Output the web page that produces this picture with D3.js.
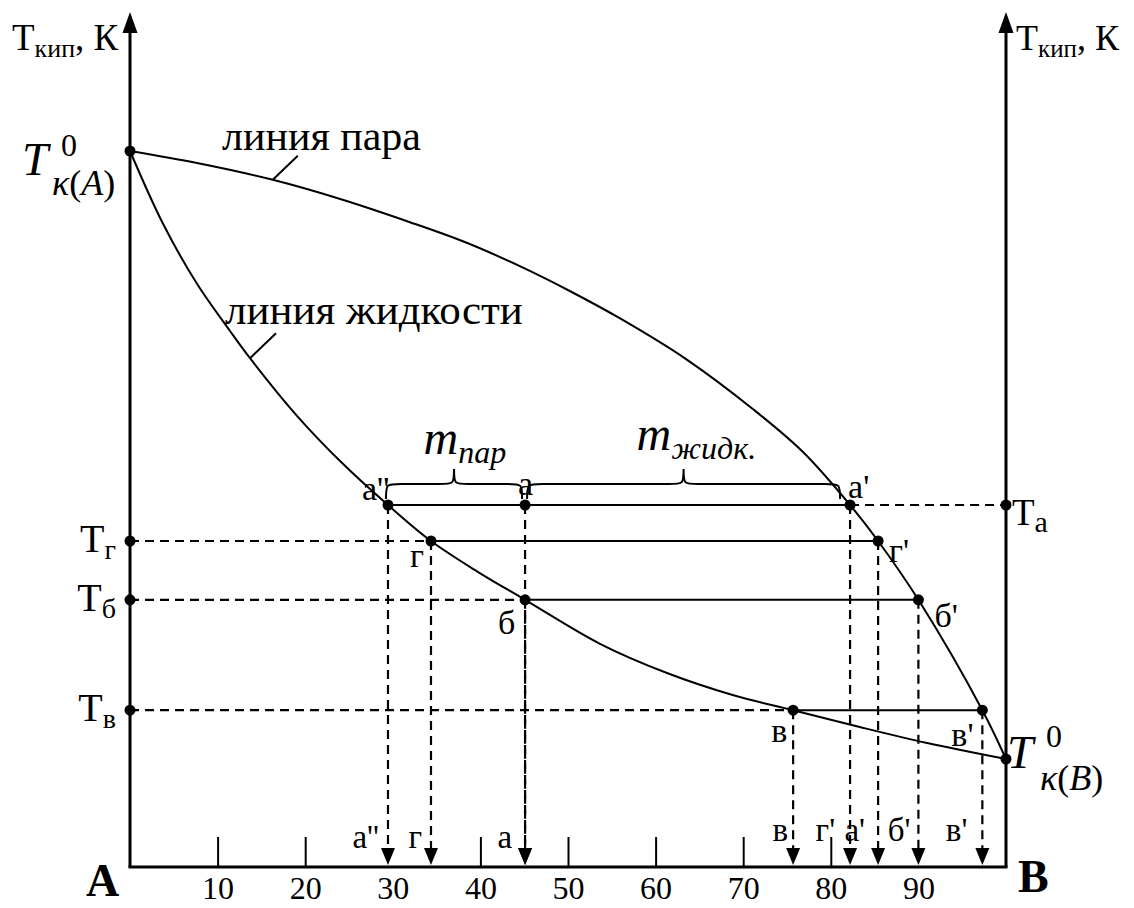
<!DOCTYPE html>
<html>
<head>
<meta charset="utf-8">
<script src="https://cdn.jsdelivr.net/npm/d3@7"></script>
<style>
  body { margin: 0; background: #fff; }
</style>
</head>
<body>
<div id="chart"></div>
<script>
const width = 1134;
const height = 908;
const FONT = "'Liberation Serif', 'Times New Roman', 'DejaVu Serif', serif";

// x: содержание компонента B, %; y: температура кипения (условные единицы)
const compTicks = [10, 20, 30, 40, 50, 60, 70, 80, 90];
const visibleTickMarks = [10, 20, 40, 50, 60, 70, 80];

const liquidComp = [0, 3.77, 7.65, 11.42, 13.7, 19.06, 24.3, 29.45, 34.36, 39.7, 45.1, 53.65, 61.3, 68.8, 75.7, 83.3, 91.0, 100];
const liquidT    = [89.5, 80.4, 72.9, 67.0, 63.6, 56.4, 50.4, 45.25, 40.75, 36.9, 33.4, 27.9, 24.25, 21.5, 19.6, 17.5, 15.5, 13.5];

const vaporComp = [0, 7.65, 16.3, 24.0, 31.96, 38.5, 44.5, 50.2, 55.9, 63.6, 71.1, 76.8, 82.2, 85.4, 90.0, 97.3, 100];
const vaporT    = [89.5, 88.0, 85.9, 83.5, 80.6, 78.0, 75.1, 72.0, 68.6, 63.4, 57.25, 51.9, 45.25, 40.75, 33.4, 19.6, 13.5];

// ноды (линии связи)
const tieNames  = ["а", "г", "б", "в"];
const tieT      = [45.25, 40.75, 33.4, 19.6];
const tieLiquid = [29.45, 34.36, 45.1, 75.7];
const tieVapor  = [82.2, 85.4, 90.0, 97.3];
const systemComp = 45.1; // фигуративная точка "а"

const svg = d3.select("#chart").append("svg")
    .attr("width", width)
    .attr("height", height)
    .style("display", "block");

const x = d3.scaleLinear().domain([0, 100]).range([130, 1006]);
const y = d3.scaleLinear().domain([0, 100]).range([867, 67]);

const ink = "#000";
const dash = "9,6";

function label(g, px, py, parts, anchor) {
    const t = g.append("text")
        .attr("x", px).attr("y", py)
        .attr("font-family", FONT)
        .attr("fill", ink)
        .attr("text-anchor", anchor || "start");
    parts.forEach(p => {
        const s = t.append("tspan").text(p.text).attr("font-size", p.size);
        if (p.italic) s.attr("font-style", "italic");
        if (p.bold) s.attr("font-weight", "bold");
        if (p.dy) s.attr("dy", p.dy);
    });
    return t;
}

// оси
const axes = svg.append("g").attr("stroke", ink).attr("stroke-width", 3);
axes.append("line")
    .attr("x1", x(0) - 1.5).attr("x2", x(100) + 1.5)
    .attr("y1", y(0)).attr("y2", y(0));
[0, 100].forEach(c => {
    axes.append("line")
        .attr("x1", x(c)).attr("x2", x(c))
        .attr("y1", y(0)).attr("y2", 30);
    svg.append("path")
        .attr("d", `M${x(c)},12 L${x(c) - 7.5},33 L${x(c) + 7.5},33 Z`)
        .attr("fill", ink);
});

const xAxis = d3.axisBottom(x)
    .tickValues(compTicks)
    .tickSize(-30)
    .tickSizeOuter(0)
    .tickPadding(9);

const gx = svg.append("g")
    .attr("transform", `translate(0,${y(0)})`)
    .call(xAxis)
    .attr("font-family", FONT)
    .attr("font-size", 32);
gx.select(".domain").remove();
gx.selectAll(".tick line")
    .attr("stroke", ink)
    .attr("stroke-width", 2)
    .attr("display", d => visibleTickMarks.includes(d) ? null : "none");
gx.selectAll(".tick text").attr("fill", ink).attr("font-family", FONT);

// кривые
const curve = d3.line()
    .x(d => x(d[0]))
    .y(d => y(d[1]))
    .curve(d3.curveCatmullRom.alpha(0.5));

svg.append("path")
    .datum(d3.zip(liquidComp, liquidT))
    .attr("d", curve)
    .attr("fill", "none")
    .attr("stroke", ink)
    .attr("stroke-width", 2);

svg.append("path")
    .datum(d3.zip(vaporComp, vaporT))
    .attr("d", curve)
    .attr("fill", "none")
    .attr("stroke", ink)
    .attr("stroke-width", 2);

// пунктирные горизонтали к осям
const dashed = svg.append("g")
    .attr("stroke", ink)
    .attr("stroke-width", 2.2)
    .attr("stroke-dasharray", dash)
    .attr("fill", "none");

tieNames.forEach((n, i) => {
    if (i === 0) {
        dashed.append("line")
            .attr("x1", x(tieVapor[i])).attr("x2", x(100))
            .attr("y1", y(tieT[i])).attr("y2", y(tieT[i]));
    } else {
        dashed.append("line")
            .attr("x1", x(0)).attr("x2", x(tieLiquid[i]))
            .attr("y1", y(tieT[i])).attr("y2", y(tieT[i]));
    }
});

// вертикальные стрелки к оси составов
const arrows = [];
tieNames.forEach((n, i) => {
    arrows.push({ c: tieLiquid[i], t: tieT[i], name: i === 0 ? "а''" : n });
    arrows.push({ c: tieVapor[i], t: tieT[i], name: n + "'" });
});
arrows.push({ c: systemComp, t: tieT[0], name: "а" });
arrows.sort((a, b) => a.c - b.c);

// сдвиг подписи относительно стрелки и высота строки
const bottomLabelDx = { "а''": -9, "г": -9, "а": -13, "в": -5, "г'": -43, "а'": 15, "б'": -8, "в'": -15 };
const bottomLabelY = { "а''": 848, "г": 848, "а": 848, "в": 841, "г'": 841, "а'": 841, "б'": 841, "в'": 841 };

arrows.forEach(a => {
    dashed.append("line")
        .attr("x1", x(a.c)).attr("x2", x(a.c))
        .attr("y1", y(a.t)).attr("y2", y(0) - 16);
    svg.append("path")
        .attr("d", `M${x(a.c) - 7},${y(0) - 19} L${x(a.c) + 7},${y(0) - 19} L${x(a.c)},${y(0) - 2} Z`)
        .attr("fill", ink);
    svg.append("text")
        .attr("x", x(a.c) + bottomLabelDx[a.name])
        .attr("y", bottomLabelY[a.name])
        .attr("text-anchor", "end")
        .attr("font-family", FONT)
        .attr("font-size", 33)
        .attr("fill", ink)
        .text(a.name);
});

// ноды
const ties = svg.append("g").attr("stroke", ink).attr("stroke-width", 2);
tieNames.forEach((n, i) => {
    ties.append("line")
        .attr("x1", x(tieLiquid[i])).attr("x2", x(tieVapor[i]))
        .attr("y1", y(tieT[i])).attr("y2", y(tieT[i]));
});

// фигурные скобки над нодой а''–а–а'
function bracePath(x1, x2, yb, r) {
    const xm = (x1 + x2) / 2;
    return `M${x1},${yb + r} C${x1},${yb} ${x1},${yb} ${x1 + r},${yb} ` +
        `L${xm - r},${yb} C${xm},${yb} ${xm},${yb} ${xm},${yb - r} ` +
        `C${xm},${yb} ${xm},${yb} ${xm + r},${yb} ` +
        `L${x2 - r},${yb} C${x2},${yb} ${x2},${yb} ${x2},${yb + r}`;
}
const braceY = y(tieT[0]) - 21;
svg.append("path")
    .attr("d", bracePath(x(tieLiquid[0]) - 2, x(systemComp) - 3, braceY, 15))
    .attr("fill", "none").attr("stroke", ink).attr("stroke-width", 2);
svg.append("path")
    .attr("d", bracePath(x(systemComp) + 2, x(tieVapor[0]) - 10, braceY, 15))
    .attr("fill", "none").attr("stroke", ink).attr("stroke-width", 2);

const mparX = (x(tieLiquid[0]) + x(systemComp)) / 2;
label(svg, mparX - 33, braceY - 30, [
    { text: "m", size: 48, italic: true },
    { text: "пар", size: 32, italic: true, dy: 9 }
]);
const mliqX = (x(systemComp) + x(tieVapor[0]) - 8) / 2;
label(svg, mliqX - 47, braceY - 34, [
    { text: "m", size: 48, italic: true },
    { text: "жидк.", size: 32, italic: true, dy: 9 }
]);

// точки
const dots = [[0, liquidT[0]], [100, liquidT[liquidT.length - 1]], [systemComp, tieT[0]]];
tieNames.forEach((n, i) => {
    dots.push([tieLiquid[i], tieT[i]], [tieVapor[i], tieT[i]]);
    if (i === 0) dots.push([100, tieT[i]]); else dots.push([0, tieT[i]]);
});
svg.append("g").selectAll("circle")
    .data(dots)
    .join("circle")
    .attr("cx", d => x(d[0]))
    .attr("cy", d => y(d[1]))
    .attr("r", 5.5)
    .attr("fill", ink);

// подписи точек на кривых
const pointLabels = [
    { c: tieLiquid[0], t: tieT[0], text: "а''", dx: -26, dy: -5 },
    { c: systemComp, t: tieT[0], text: "а", dx: -7, dy: -10 },
    { c: tieVapor[0], t: tieT[0], text: "а'", dx: -2, dy: -7 },
    { c: tieLiquid[1], t: tieT[1], text: "г", dx: -21, dy: 26 },
    { c: tieVapor[1], t: tieT[1], text: "г'", dx: 11, dy: 21 },
    { c: tieLiquid[2], t: tieT[2], text: "б", dx: -27, dy: 34 },
    { c: tieVapor[2], t: tieT[2], text: "б'", dx: 16, dy: 27 },
    { c: tieLiquid[3], t: tieT[3], text: "в", dx: -22, dy: 32 },
    { c: tieVapor[3], t: tieT[3], text: "в'", dx: -31, dy: 36 }
];
pointLabels.forEach(p => {
    svg.append("text")
        .attr("x", x(p.c) + p.dx)
        .attr("y", y(p.t) + p.dy)
        .attr("font-family", FONT)
        .attr("font-size", 34)
        .attr("fill", ink)
        .text(p.text);
});

// температуры на осях
["г", "б", "в"].forEach((n, k) => {
    const i = k + 1;
    label(svg, x(0) - 14, y(tieT[i]) + 11, [
        { text: "Т", size: 40 },
        { text: n, size: 28, dy: 7 }
    ], "end");
});
label(svg, x(100) + 6, y(tieT[0]) + 20, [
    { text: "Т", size: 37 },
    { text: "а", size: 30, dy: 7 }
]);

// заголовки осей
label(svg, 12, 50, [
    { text: "Т", size: 37 },
    { text: "кип", size: 26, dy: 7 },
    { text: ", К", size: 37, dy: -7 }
]);
label(svg, 1016, 50, [
    { text: "Т", size: 36 },
    { text: "кип", size: 25, dy: 7 },
    { text: ", К", size: 36, dy: -7 }
]);

// температуры кипения чистых компонентов
const taY = y(liquidT[0]);
label(svg, 22, taY + 24, [{ text: "T", size: 47, italic: true }]);
label(svg, 61, taY + 5, [{ text: "0", size: 32 }]);
label(svg, 52, taY + 44, [
    { text: "κ", size: 36, italic: true },
    { text: "(", size: 36 },
    { text: "A", size: 36, italic: true },
    { text: ")", size: 36 }
]);
const tbY = y(liquidT[liquidT.length - 1]);
label(svg, 1007, tbY + 9, [{ text: "T", size: 47, italic: true }]);
label(svg, 1046, tbY - 12, [{ text: "0", size: 32 }]);
label(svg, 1040, tbY + 31, [
    { text: "κ", size: 36, italic: true },
    { text: "(", size: 36 },
    { text: "B", size: 36, italic: true },
    { text: ")", size: 36 }
]);

// подписи линий
const vLead = [x(vaporComp[2]), y(vaporT[2])];
svg.append("line")
    .attr("x1", vLead[0]).attr("y1", vLead[1])
    .attr("x2", vLead[0] + 25).attr("y2", vLead[1] - 24)
    .attr("stroke", ink).attr("stroke-width", 2);
label(svg, 222, 150, [{ text: "линия пара", size: 42 }]);

const lLead = [x(liquidComp[4]), y(liquidT[4])];
svg.append("line")
    .attr("x1", lLead[0]).attr("y1", lLead[1])
    .attr("x2", lLead[0] + 26).attr("y2", lLead[1] - 25)
    .attr("stroke", ink).attr("stroke-width", 2);
label(svg, 225, 324, [{ text: "линия жидкости", size: 43 }]);

// компоненты A и B
label(svg, 86, 896, [{ text: "A", size: 46, bold: true }]);
label(svg, 1018, 892, [{ text: "B", size: 46, bold: true }]);
</script>
</body>
</html>
